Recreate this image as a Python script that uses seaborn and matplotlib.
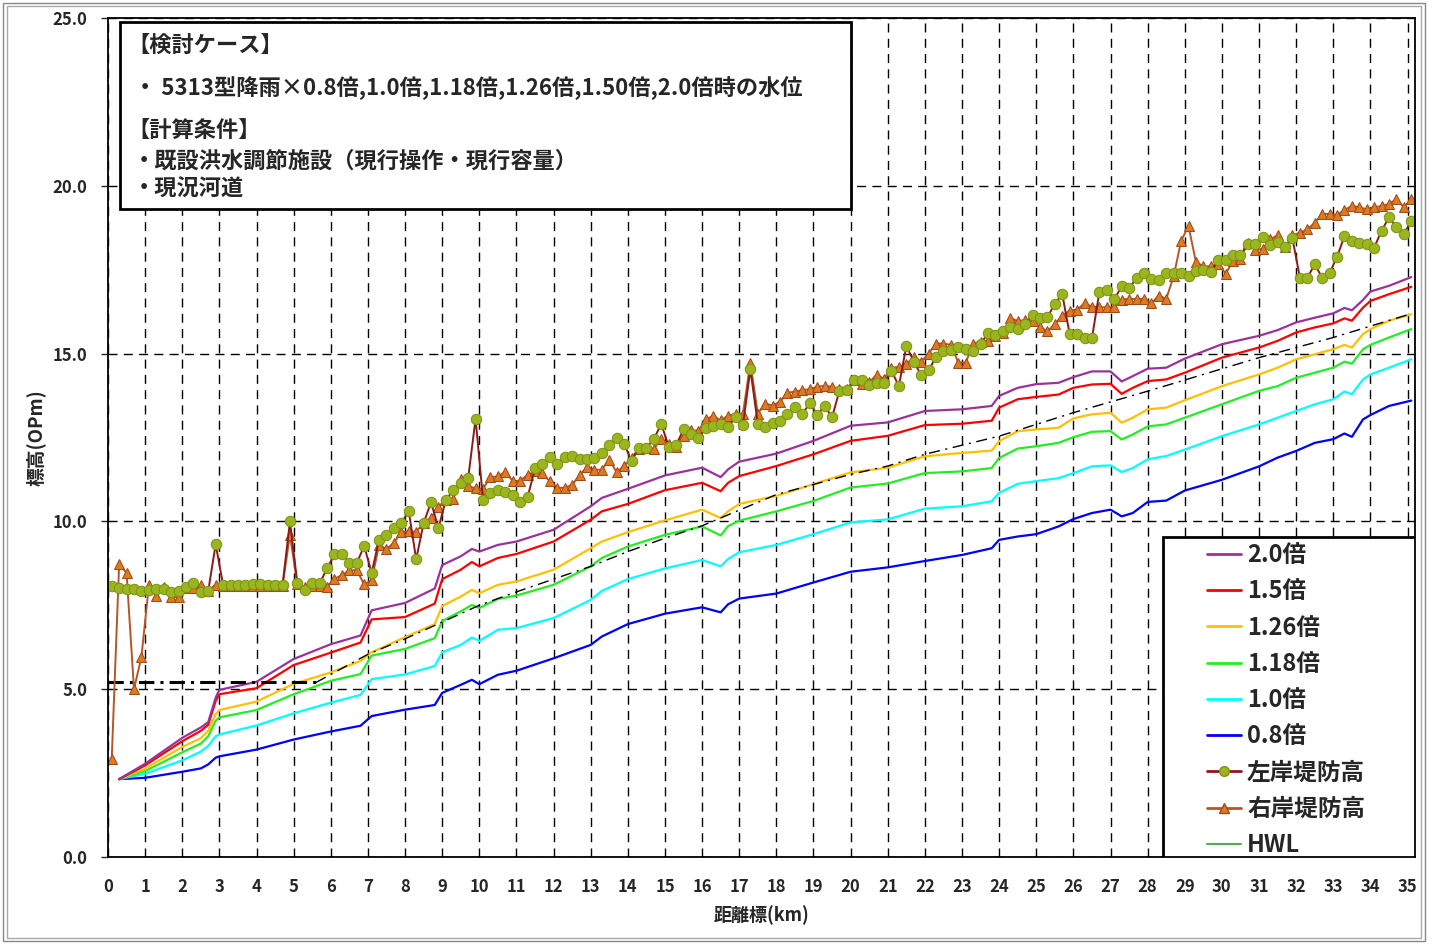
import numpy as np
import matplotlib
matplotlib.use("Agg")
import matplotlib.pyplot as plt
from matplotlib.lines import Line2D
from matplotlib.patches import Rectangle
import seaborn as sns

# water level profiles (km, OPm)
wl_km = [0.3, 1.0, 2.0, 2.5, 2.7, 2.9, 3.0, 4.0, 5.0, 6.0, 6.8, 7.1, 8.0, 8.8, 9.0,
         9.5, 9.8, 10.0, 10.5, 11.0, 12.0, 13.0, 13.3, 14.0, 15.0, 16.0, 16.5, 16.7,
         17.0, 18.0, 19.0, 20.0, 21.0, 22.0, 23.0, 23.8, 24.0, 24.5, 25.0, 25.6, 26.0,
         26.5, 27.0, 27.3, 27.6, 28.0, 28.5, 29.0, 30.0, 31.0, 31.5, 32.0, 32.5, 33.0,
         33.3, 33.5, 33.8, 34.0, 34.5, 35.1]
wl_20 = [2.32, 2.78, 3.55, 3.86, 4.02, 4.75, 4.98, 5.22, 5.90, 6.34, 6.60, 7.35, 7.57,
         8.00, 8.70, 8.96, 9.18, 9.10, 9.30, 9.40, 9.75, 10.45, 10.70, 10.97, 11.37,
         11.60, 11.32, 11.55, 11.78, 12.02, 12.40, 12.85, 12.95, 13.29, 13.34, 13.44,
         13.74, 13.98, 14.09, 14.13, 14.30, 14.47, 14.47, 14.17, 14.33, 14.55, 14.58,
         14.85, 15.28, 15.53, 15.70, 15.93, 16.07, 16.20, 16.36, 16.29, 16.60, 16.85,
         17.02, 17.28]
wl_15 = [2.32, 2.73, 3.45, 3.76, 3.94, 4.65, 4.85, 5.03, 5.72, 6.09, 6.39, 7.08, 7.15,
         7.55, 8.28, 8.56, 8.79, 8.66, 8.91, 9.03, 9.40, 10.05, 10.30, 10.52, 10.93,
         11.15, 10.90, 11.15, 11.35, 11.65, 12.00, 12.40, 12.55, 12.87, 12.91, 13.00,
         13.39, 13.64, 13.71, 13.78, 13.98, 14.08, 14.10, 13.80, 13.98, 14.18, 14.23,
         14.43, 14.88, 15.18, 15.38, 15.63, 15.78, 15.90, 16.05, 15.98, 16.37, 16.57,
         16.77, 16.99]
wl_126 = [2.32, 2.63, 3.28, 3.54, 3.76, 4.25, 4.38, 4.63, 5.16, 5.50, 5.84, 6.10, 6.55,
          6.94, 7.48, 7.76, 7.96, 7.86, 8.11, 8.21, 8.56, 9.20, 9.40, 9.68, 10.03,
          10.35, 10.10, 10.30, 10.52, 10.76, 11.11, 11.46, 11.60, 11.94, 12.04, 12.11,
          12.39, 12.69, 12.74, 12.79, 13.07, 13.19, 13.24, 12.94, 13.09, 13.34, 13.39,
          13.61, 14.03, 14.38, 14.58, 14.83, 14.98, 15.13, 15.26, 15.18, 15.58, 15.73,
          15.98, 16.17]
wl_118 = [2.32, 2.56, 3.12, 3.38, 3.60, 4.06, 4.16, 4.38, 4.85, 5.25, 5.45, 6.00, 6.20,
          6.52, 7.03, 7.32, 7.51, 7.42, 7.69, 7.79, 8.11, 8.66, 8.91, 9.25, 9.60,
          9.85, 9.58, 9.86, 10.02, 10.30, 10.61, 11.01, 11.13, 11.44, 11.49, 11.59,
          11.89, 12.17, 12.24, 12.34, 12.51, 12.67, 12.69, 12.44, 12.59, 12.83, 12.89,
          13.09, 13.49, 13.89, 14.03, 14.28, 14.43, 14.58, 14.76, 14.70, 15.13, 15.26,
          15.48, 15.73]
wl_10 = [2.32, 2.48, 2.88, 3.14, 3.31, 3.60, 3.65, 3.92, 4.28, 4.60, 4.83, 5.30, 5.44,
         5.69, 6.10, 6.32, 6.54, 6.44, 6.77, 6.82, 7.12, 7.66, 7.93, 8.28, 8.60,
         8.85, 8.66, 8.88, 9.08, 9.30, 9.62, 9.97, 10.06, 10.38, 10.45, 10.60,
         10.85, 11.12, 11.20, 11.29, 11.44, 11.64, 11.67, 11.47, 11.59, 11.85, 11.95,
         12.14, 12.54, 12.89, 13.09, 13.29, 13.49, 13.64, 13.87, 13.79, 14.23, 14.38,
         14.58, 14.83]
wl_08 = [2.32, 2.36, 2.54, 2.64, 2.76, 2.96, 3.00, 3.20, 3.50, 3.74, 3.91, 4.20, 4.39,
         4.53, 4.89, 5.13, 5.28, 5.15, 5.43, 5.55, 5.92, 6.32, 6.57, 6.94, 7.25,
         7.44, 7.29, 7.53, 7.70, 7.85, 8.18, 8.50, 8.63, 8.82, 9.00, 9.20,
         9.45, 9.55, 9.62, 9.85, 10.07, 10.25, 10.35, 10.15, 10.25, 10.58, 10.62,
         10.92, 11.24, 11.64, 11.90, 12.10, 12.34, 12.45, 12.62, 12.52, 13.04, 13.17,
         13.44, 13.60]

# levee crest heights, one point every 0.2 km from 0.1 km
levee_km = np.round(0.1 + 0.2 * np.arange(176), 1)
left_levee = [
    8.08, 8.01, 8.00, 7.98, 7.93, 7.95, 7.98, 8.00, 7.91, 7.93,
    8.05, 8.15, 7.91, 7.93, 9.32, 8.10, 8.10, 8.10, 8.10, 8.12,
    8.12, 8.10, 8.10, 8.10, 10.00, 8.15, 7.95, 8.15, 8.15, 8.60,
    9.02, 9.04, 8.77, 8.76, 9.27, 8.46, 9.46, 9.58, 9.80, 9.96,
    10.30, 8.87, 9.95, 10.57, 9.80, 10.65, 10.93, 11.14, 11.29, 13.06,
    10.65, 10.85, 10.93, 10.88, 10.80, 10.58, 10.72, 11.58, 11.71, 11.91,
    11.71, 11.92, 11.94, 11.86, 11.85, 11.89, 12.04, 12.27, 12.50, 12.31,
    11.80, 12.20, 12.20, 12.45, 12.91, 12.23, 12.27, 12.74, 12.60, 12.48,
    12.78, 12.85, 12.90, 12.82, 13.10, 12.87, 14.53, 12.91, 12.82, 12.92,
    13.00, 13.20, 13.40, 13.19, 13.54, 13.17, 13.44, 13.10, 13.90, 13.91,
    14.21, 14.21, 14.07, 14.11, 14.12, 14.49, 14.03, 15.23, 14.76, 14.36,
    14.50, 14.90, 15.08, 15.10, 15.20, 15.13, 15.08, 15.30, 15.60, 15.56,
    15.66, 15.79, 15.73, 15.89, 16.16, 16.06, 16.08, 16.49, 16.77, 15.58,
    15.57, 15.46, 15.46, 16.84, 16.90, 16.62, 17.00, 16.96, 17.24, 17.40,
    17.21, 17.20, 17.40, 17.40, 17.40, 17.30, 17.46, 17.48, 17.43, 17.78,
    17.78, 17.93, 17.93, 18.28, 18.28, 18.46, 18.23, 18.33, 18.18, 18.43,
    17.26, 17.26, 17.66, 17.26, 17.40, 17.88, 18.50, 18.36, 18.30, 18.28,
    18.16, 18.66, 19.06, 18.76, 18.56, 18.96]
right_levee = [
    2.91, 8.73, 8.46, 5.00, 5.96, 8.09, 7.78, 8.06, 7.74, 7.74,
    8.02, 8.02, 8.09, 7.94, 8.11, 8.08, 8.08, 8.08, 8.08, 8.08,
    8.08, 8.08, 8.08, 8.08, 9.60, 8.12, 8.06, 8.08, 8.08, 8.06,
    8.29, 8.40, 8.54, 8.55, 8.12, 8.25, 9.29, 9.18, 9.36, 9.68,
    9.70, 9.69, 9.95, 10.11, 10.44, 10.65, 10.68, 11.25, 11.04, 10.99,
    10.97, 11.32, 11.34, 11.48, 11.20, 11.21, 11.39, 11.49, 11.43, 11.19,
    11.00, 11.00, 11.09, 11.37, 11.62, 11.54, 11.54, 11.84, 11.46, 11.66,
    11.89, 12.17, 12.18, 12.16, 12.47, 12.30, 12.23, 12.54, 12.72, 12.70,
    13.05, 13.14, 13.01, 13.15, 13.19, 13.21, 14.73, 13.21, 13.51, 13.45,
    13.57, 13.83, 13.87, 13.91, 13.94, 14.01, 14.04, 14.01, 13.94, 13.94,
    14.21, 14.09, 14.14, 14.37, 14.25, 14.58, 14.60, 14.68, 14.90, 14.76,
    15.00, 15.30, 15.30, 15.26, 14.73, 14.73, 15.30, 15.36, 15.38, 15.53,
    15.62, 16.06, 15.97, 16.00, 15.97, 15.79, 15.66, 15.88, 16.13, 16.28,
    16.31, 16.50, 16.40, 16.38, 16.38, 16.38, 16.61, 16.63, 16.63, 16.63,
    16.50, 16.73, 16.63, 17.30, 18.36, 18.80, 17.73, 17.60, 17.60, 17.68,
    17.38, 17.76, 17.83, 18.30, 18.08, 18.13, 18.40, 18.53, 18.18, 18.53,
    18.60, 18.70, 18.90, 19.16, 19.16, 19.13, 19.28, 19.40, 19.36, 19.30,
    19.36, 19.40, 19.46, 19.60, 19.36, 19.60]

# HWL
hwl_flat_km = [0.0, 5.6]
hwl_flat = [5.2, 5.2]
hwl_km = [5.6, 7.0, 8.0, 9.0, 10.0, 11.0, 12.0, 13.0, 14.0, 15.0, 16.0, 18.0, 20.0,
          21.0, 22.0, 24.0, 26.0, 28.0, 31.0, 33.0, 35.1]
hwl = [5.2, 6.04, 6.50, 7.00, 7.50, 7.90, 8.28, 8.66, 9.10, 9.50, 9.87, 10.80, 11.40,
       11.65, 12.00, 12.54, 13.24, 13.88, 14.88, 15.48, 16.19]

wl_labels = ["2.0倍", "1.5倍", "1.26倍", "1.18倍", "1.0倍", "0.8倍"]
wl_colors = ["#993399", "#ff0000", "#ffc000", "#22ee22", "#00ffff", "#0000ff"]
wl_series = [wl_20, wl_15, wl_126, wl_118, wl_10, wl_08]

sns.set_theme(style="white")
plt.rcParams["font.family"] = ["Noto Sans CJK JP", "DejaVu Sans"]
plt.rcParams["font.weight"] = "bold"

fig = plt.figure(figsize=(14.37, 9.44), dpi=100)
ax = fig.add_axes([108 / 1437, 1 - 857 / 944, 1307 / 1437, 839 / 944])

# water levels
for vals, col in zip(wl_series[::-1], wl_colors[::-1]):
    sns.lineplot(x=wl_km, y=vals, ax=ax, color=col, lw=1.6, estimator=None, sort=False)

# HWL
sns.lineplot(x=hwl_flat_km, y=hwl_flat, ax=ax, color="black", lw=2.2,
             linestyle=(0, (5, 2, 1, 2)), estimator=None, sort=False)
sns.lineplot(x=hwl_km, y=hwl, ax=ax, color="black", lw=1.0,
             linestyle=(0, (8, 4, 1.5, 4)), estimator=None, sort=False)

# levees
r_line, r_face, r_edge = "#b4562a", "#dd7a22", "#a24a18"
l_line, l_face, l_edge = "#8b1a1a", "#9bb51e", "#7c9412"
sns.lineplot(x=levee_km, y=right_levee, ax=ax, color=r_line, lw=1.4, marker="^",
             markersize=7, markerfacecolor=r_face, markeredgecolor=r_edge,
             estimator=None, sort=False)
sns.lineplot(x=levee_km, y=left_levee, ax=ax, color=l_line, lw=1.4, marker="o",
             markersize=7.5, markerfacecolor=l_face, markeredgecolor=l_edge,
             estimator=None, sort=False)

ax.set_xlim(0, 35.2)
ax.set_ylim(0, 25)
ax.set_xticks(range(36))
ax.set_xticklabels([str(i) for i in range(36)], fontsize=12, fontweight="bold")
ax.set_yticks([0, 5, 10, 15, 20, 25])
ax.set_yticklabels([f"{v:.1f}" for v in [0, 5, 10, 15, 20, 25]], fontsize=12,
                   fontweight="bold")
ax.tick_params(axis="x", length=0, pad=15)
ax.tick_params(axis="y", length=5, width=1, direction="out", pad=10, left=True)
ax.grid(True, color="black", linestyle=(0, (6.5, 4.5)), lw=1.0)
for s in ax.spines.values():
    s.set_color("black")
    s.set_linewidth(1.3)

ax.set_xlabel("距離標(km)", fontsize=13, fontweight="bold", labelpad=7)
ax.set_ylabel("標高(OPm)", fontsize=13.5, fontweight="bold", labelpad=5)

# case description box
ax.add_patch(Rectangle((0.0092, 0.7724), 0.5593, 0.2228, transform=ax.transAxes,
                       facecolor="white", edgecolor="black", lw=2, zorder=5))
box_lines = [
    (0.0145, 0.9666, "【検討ケース】"),
    (0.0200, 0.9166, "・ 5313型降雨×0.8倍,1.0倍,1.18倍,1.26倍,1.50倍,2.0倍時の水位"),
    (0.0145, 0.8653, "【計算条件】"),
    (0.0190, 0.8296, "・既設洪水調節施設（現行操作・現行容量）"),
    (0.0190, 0.7962, "・現況河道"),
]
for x, y, t in box_lines:
    ax.text(x, y, t, transform=ax.transAxes, fontsize=16, fontweight="bold",
            va="center", ha="left", zorder=6)

# legend
ax.add_patch(Rectangle((0.807, 0.0), 0.193, 0.381, transform=ax.transAxes,
                       facecolor="white", edgecolor="black", lw=2, zorder=5))
handles = [Line2D([], [], color=c, lw=2) for c in wl_colors]
handles.append(Line2D([], [], color=l_line, lw=2, marker="o", markersize=7,
                      markerfacecolor=l_face, markeredgecolor=l_edge))
handles.append(Line2D([], [], color=r_line, lw=2, marker="^", markersize=7,
                      markerfacecolor=r_face, markeredgecolor=r_edge))
handles.append(Line2D([], [], color="#55aa55", lw=1.5))
labels = wl_labels + ["左岸堤防高", "右岸堤防高", "HWL"]
leg = ax.legend(handles, labels, loc="upper left", bbox_to_anchor=(0.839, 0.377),
                frameon=False, prop={"size": 17, "weight": "bold"},
                handlelength=1.45, handletextpad=0.25, labelspacing=0.52,
                borderpad=0.1, borderaxespad=0)
leg.set_zorder(6)

# outer frame of the picture
fig.add_artist(Rectangle((3 / 1437, 3 / 944), 1422 / 1437, 938 / 944,
                         transform=fig.transFigure, fill=False,
                         edgecolor="#888888", lw=1))
fig.add_artist(Rectangle((7 / 1437, 6 / 944), 1414 / 1437, 932 / 944,
                         transform=fig.transFigure, fill=False,
                         edgecolor="#aaaaaa", lw=1))

fig.savefig("out.png", dpi=100)
